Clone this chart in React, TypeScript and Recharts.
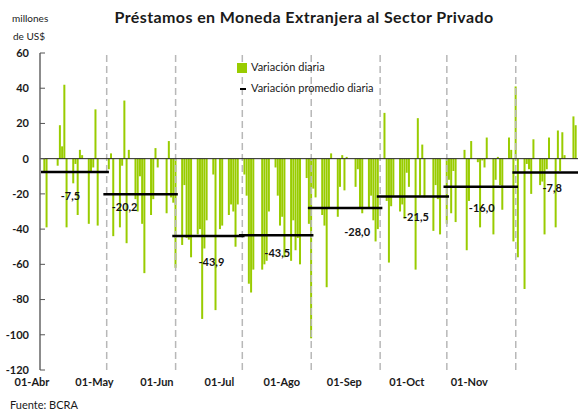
import { Bar, BarChart, ReferenceLine, XAxis, YAxis } from "recharts";

// daily variation (millones de US$), business days of each month, 2012
const aprDays = [3, 4, 9, 10, 11, 12, 13, 16, 17, 18, 19, 20, 23, 24, 25, 26, 27];
const aprVals = [-8, -39, -4, 19, 7, 42, -39, -14, -3, -32, 5, 2, -37, -8, -5, 28, -38];

const mayDays = [2, 3, 4, 7, 8, 9, 10, 11, 14, 15, 16, 17, 18, 21, 22, 23, 24, 28, 29, 30, 31];
const mayVals = [-6, 3, -44, -39, -4, 33, -48, 5, -23, -30, -10, -37, -65, -32, -23, 6, -5, -31, 10, -22, -25];

const junDays = [1, 4, 5, 6, 7, 8, 11, 12, 13, 14, 15, 18, 19, 21, 22, 25, 26, 27, 28, 29];
const junVals = [-62, -49, -15, -45, -46, -56, -43, -40, -91, -51, -35, -9, -86, -40, -38, -32, -26, -30, -50, -26];

const julDays = [2, 3, 4, 5, 6, 10, 11, 12, 13, 16, 17, 18, 19, 20, 23, 24, 25, 26, 27, 30, 31];
const julVals = [-9, -21, -71, -76, -63, -63, -60, -58, -30, -5, -21, -38, -33, -56, -58, -35, -52, -45, -60, -11, -37];

const augDays = [1, 2, 3, 6, 7, 8, 9, 10, 13, 14, 15, 16, 17, 21, 22, 23, 24, 27, 28, 29, 30, 31];
const augVals = [-102, -17, -22, -32, -38, -73, -28, 3, -33, -16, 2, -18, 1, -16, -6, -28, -31, -28, -21, -35, -47, -40];

const sepDays = [3, 4, 5, 6, 7, 10, 11, 12, 13, 14, 17, 18, 19, 20, 21, 25, 26, 27, 28];
const sepVals = [26, -24, -59, -27, -21, -30, -26, -34, -8, -16, -63, 23, -21, 8, -22, -41, -15, -23, -43];

const octDays = [1, 2, 3, 4, 5, 9, 10, 11, 12, 15, 16, 17, 18, 19, 22, 23, 24, 25, 26, 29, 30, 31];
const octVals = [-37, -12, -31, -7, -36, 5, -52, -24, 10, -2, -39, -1, -5, 12, -43, -12, 1, -15, -29, 12, 5, -47];

const novDays = [1, 2, 5, 6, 7, 8, 9, 12, 13, 14, 15, 16, 19, 20, 21, 22, 23, 27, 28];
const novVals = [41, -56, -74, -3, -6, -20, 11, -15, -13, -43, -6, 12, -39, 16, -7, 15, 2, 24, 19];

// monthly average of the daily variation
const monthAvg = [-7.5, -20.2, -43.9, -43.5, -28.0, -21.5, -16.0, -7.8];
const monthLabels = ["01-Abr", "01-May", "01-Jun", "01-Jul", "01-Ago", "01-Sep", "01-Oct", "01-Nov"];
const yTicks = [-120, -100, -80, -60, -40, -20, 0, 20, 40, 60];

const YEAR = 2012;
const FIRST_MONTH = 3; // April
const DAY_MS = 86400000;
const X_MAX = 242;
// the source spreads its date labels evenly, a bit tighter than the months
const LABEL_STEP = 28.1;

const monthDays = [aprDays, mayDays, junDays, julDays, augDays, sepDays, octDays, novDays];
const monthVals = [aprVals, mayVals, junVals, julVals, augVals, sepVals, octVals, novVals];

const dayIndex = (m: number, d: number) =>
  (Date.UTC(YEAR, FIRST_MONTH + m, d) - Date.UTC(YEAR, FIRST_MONTH, 1)) / DAY_MS;

const data = monthDays.flatMap((days, m) =>
  days.map((d, i) => ({ day: dayIndex(m, d), value: monthVals[m][i] }))
);

const monthStarts = monthLabels.map((_, m) => dayIndex(m, 1));
const labelTicks = monthLabels.map((_, i) => i * LABEL_STEP);

// where the average label sits relative to its line (px)
const avgLabelDx = [-4, -16, 3, 1, 12, 3, 1, 7];
const avgLabelDy = [24, 13, 26, 18, 24, 21, 21, 16];

const GREEN = "#99cc00";
const FONT = "Lato, 'Open Sans', sans-serif";

export default function App() {
  return (
    <div
      style={{
        position: "absolute",
        left: 0,
        top: 0,
        width: 578,
        height: 412,
        background: "#fff",
        fontFamily: FONT,
        color: "#1a1a1a",
      }}
    >
      <BarChart
        width={578}
        height={412}
        data={data}
        margin={{ top: 53, right: 0, bottom: 12, left: 0 }}
      >
        <XAxis
          dataKey="day"
          type="number"
          domain={[0, X_MAX]}
          ticks={labelTicks}
          tickFormatter={(d: number) => monthLabels[Math.round(d / LABEL_STEP)] ?? ""}
          interval={0}
          axisLine={false}
          tickLine={false}
          height={30}
          tick={{ fontSize: 11, fontWeight: 700, fill: "#1a1a1a", fontFamily: FONT, dx: -8 }}
        />
        <YAxis
          domain={[-120, 60]}
          ticks={yTicks}
          width={40}
          interval={0}
          axisLine={{ stroke: "#8c8c8c", strokeWidth: 2 }}
          tickLine={{ stroke: "#555" }}
          tickSize={-5}
          tickMargin={16}
          tick={{ fontSize: 11, fontWeight: 700, fill: "#1a1a1a", fontFamily: FONT }}
        />
        {monthStarts.slice(1).map((x) => (
          <ReferenceLine
            key={"m" + x}
            x={x}
            stroke="#b8b8b8"
            strokeWidth={1.5}
            strokeDasharray="7 4"
          />
        ))}
        <ReferenceLine y={0} stroke="#222" strokeWidth={1} />
        <Bar dataKey="value" fill={GREEN} barSize={2.3} isAnimationActive={false} />
        {monthAvg.map((v, m) => {
          const x1 = m === 0 ? 0 : monthStarts[m] - 1.5;
          const x2 = m === monthAvg.length - 1 ? X_MAX : monthStarts[m + 1] + 1;
          return (
            <ReferenceLine
              key={"a" + m}
              segment={[
                { x: x1, y: v },
                { x: x2, y: v },
              ]}
              ifOverflow="visible"
              stroke="#000"
              strokeWidth={2.5}
              label={{
                value: v.toFixed(1).replace(".", ","),
                position: "center",
                dx: avgLabelDx[m],
                dy: avgLabelDy[m],
                fontSize: 11,
                fontWeight: 700,
                fill: "#111",
                fontFamily: FONT,
              }}
            />
          );
        })}
      </BarChart>

      <div
        style={{
          position: "absolute",
          left: 304,
          top: 7,
          transform: "translateX(-50%)",
          whiteSpace: "nowrap",
          fontSize: 16,
          fontWeight: 700,
          letterSpacing: 0.4,
        }}
      >
        Préstamos en Moneda Extranjera al Sector Privado
      </div>
      <div style={{ position: "absolute", left: 12, top: 12, fontSize: 10 }}>millones</div>
      <div style={{ position: "absolute", left: 13, top: 30, fontSize: 10 }}>de US$</div>

      <div style={{ position: "absolute", left: 237, top: 63, width: 10, height: 10, background: GREEN }} />
      <div style={{ position: "absolute", left: 251, top: 60, fontSize: 11 }}>Variación diaria</div>
      <div style={{ position: "absolute", left: 240, top: 88, width: 6, height: 2, background: "#000" }} />
      <div style={{ position: "absolute", left: 251, top: 81, fontSize: 11 }}>
        Variación promedio diaria
      </div>

      <div style={{ position: "absolute", left: 10, top: 398, fontSize: 11 }}>Fuente: BCRA</div>
    </div>
  );
}
